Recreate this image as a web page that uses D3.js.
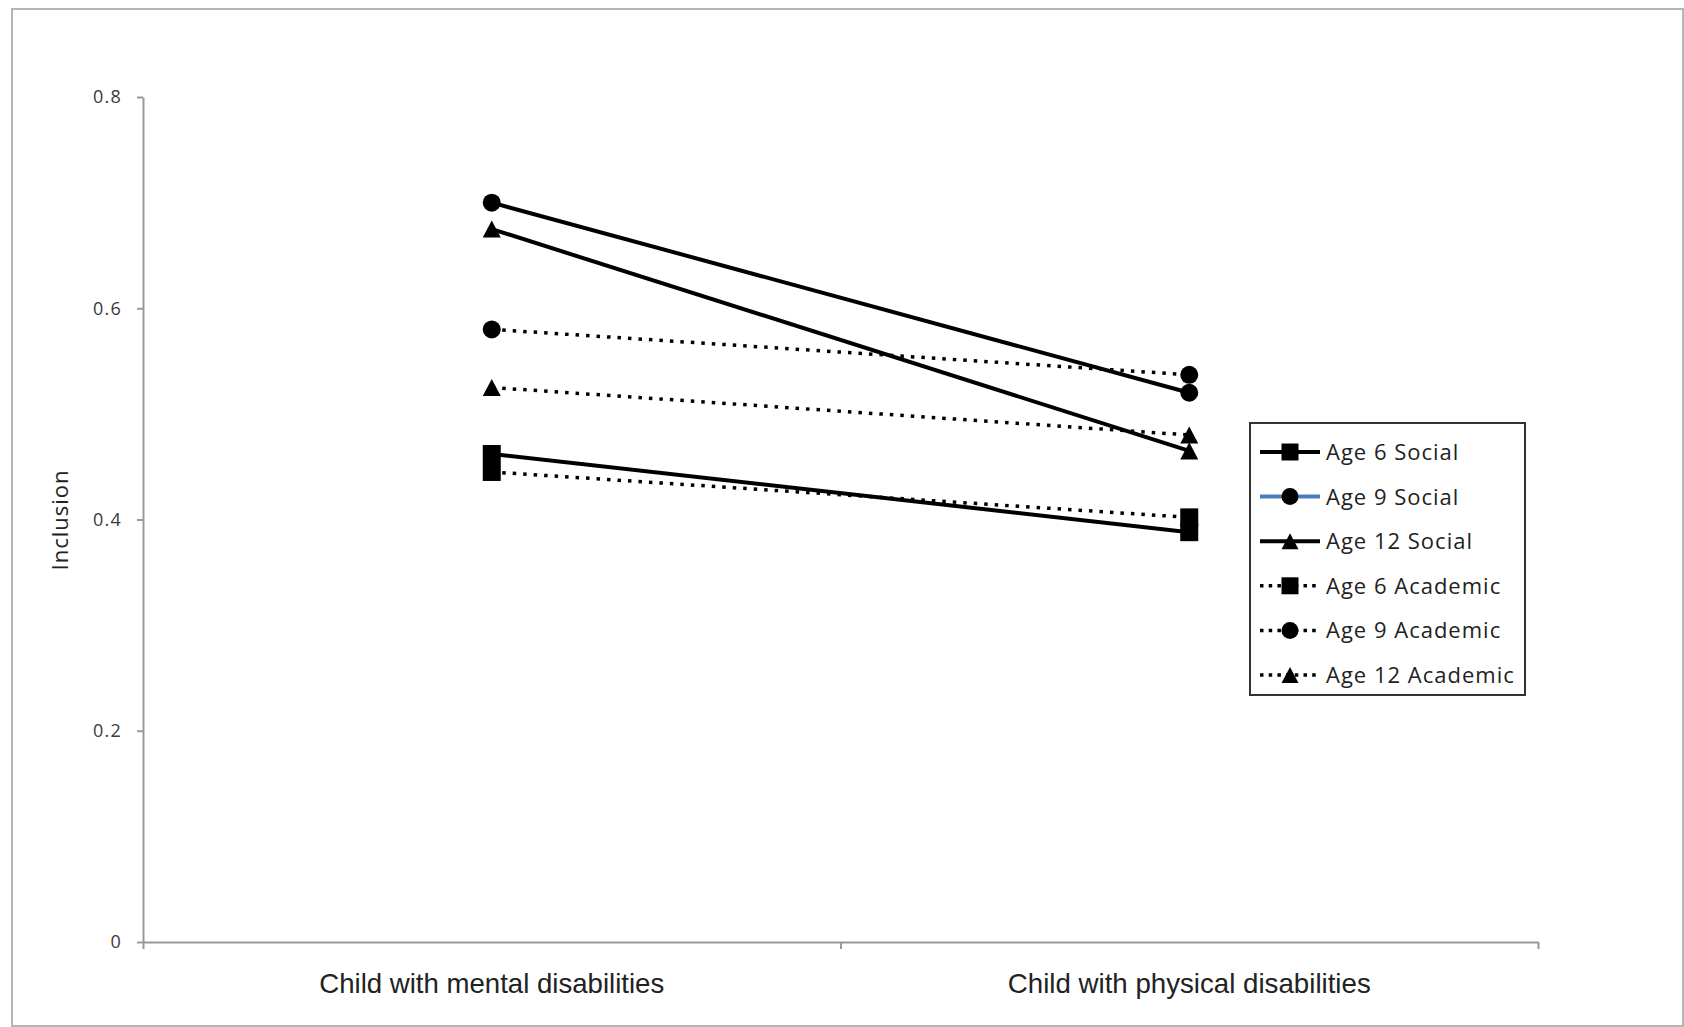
<!DOCTYPE html>
<html>
<head>
<meta charset="utf-8">
<script src="https://cdn.jsdelivr.net/npm/d3@7"></script>
<style>
  html, body { margin: 0; padding: 0; background: #fff; }
  svg { display: block; }
</style>
</head>
<body>
<svg id="chart" width="1684" height="1027"></svg>
<script>
// ---- data ----
const categories = ["Child with mental disabilities", "Child with physical disabilities"];
const seriesNames = ["Age 6 Social", "Age 9 Social", "Age 12 Social", "Age 6 Academic", "Age 9 Academic", "Age 12 Academic"];
const age6Social = [0.462, 0.388];
const age9Social = [0.700, 0.520];
const age12Social = [0.675, 0.465];
const age6Academic = [0.445, 0.402];
const age9Academic = [0.580, 0.537];
const age12Academic = [0.525, 0.480];
const yTicks = [0, 0.2, 0.4, 0.6, 0.8];
const yLabel = "Inclusion";

const seriesValues = [age6Social, age9Social, age12Social, age6Academic, age9Academic, age12Academic];
const seriesMarker = ["square", "circle", "triangle", "square", "circle", "triangle"];
const seriesDotted = [false, false, false, true, true, true];
const legendLineColor = ["#000", "#4a7ebb", "#000", "#000", "#000", "#000"];

// ---- layout ----
const svg = d3.select("#chart");
const plot = { left: 143, right: 1538, top: 97, bottom: 942 };

svg.append("rect")
  .attr("x", 12).attr("y", 9).attr("width", 1671).attr("height", 1017)
  .attr("fill", "#fff").attr("stroke", "#b5b5b5").attr("stroke-width", 2);

const x = d3.scaleBand().domain(categories).range([plot.left, plot.right]).padding(0);
const xEdges = d3.scaleLinear().domain([0, categories.length]).range([plot.left, plot.right]);
const y = d3.scaleLinear().domain([0, 0.8]).range([plot.bottom, plot.top]);
const cx = c => x(c) + x.bandwidth() / 2;

// y axis
const yAxis = svg.append("g")
  .attr("transform", `translate(${plot.left},0)`)
  .call(d3.axisLeft(y).tickValues(yTicks)
    .tickFormat(d => d === 0 ? "0" : d3.format(".1f")(d))
    .tickSize(6).tickPadding(15).tickSizeOuter(0));
yAxis.select(".domain").attr("stroke", "#999").attr("stroke-width", 2);
yAxis.selectAll(".tick line").attr("stroke", "#999").attr("stroke-width", 2);
yAxis.selectAll(".tick text")
  .attr("fill", "#3a3a3a")
  .style("font-family", "'Open Sans', sans-serif")
  .style("font-size", "18px")
  .style("letter-spacing", "1.2px");

// x axis (ticks at category boundaries)
const xAxis = svg.append("g")
  .attr("transform", `translate(0,${plot.bottom})`)
  .call(d3.axisBottom(xEdges).tickValues(d3.range(categories.length + 1))
    .tickFormat("").tickSize(7).tickSizeOuter(0));
xAxis.select(".domain").attr("stroke", "#999").attr("stroke-width", 2);
xAxis.selectAll(".tick line").attr("stroke", "#999").attr("stroke-width", 2);

// category labels
svg.append("g").selectAll("text").data(categories).join("text")
  .attr("x", d => cx(d))
  .attr("y", 993)
  .attr("text-anchor", "middle")
  .attr("fill", "#222")
  .attr("textLength", (d, i) => i === 0 ? 345 : 363)
  .attr("lengthAdjust", "spacingAndGlyphs")
  .style("font-family", "'Liberation Sans', Arial, sans-serif")
  .style("font-size", "28px")
  .text(d => d);

// y label
svg.append("text")
  .attr("transform", `translate(68,520) rotate(-90)`)
  .attr("text-anchor", "middle")
  .attr("fill", "#222")
  .style("font-family", "'Open Sans', sans-serif")
  .style("font-size", "22px")
  .style("letter-spacing", "1px")
  .text(yLabel);

// symbols
function markerPath(type, s) {
  if (type === "square") return d3.symbol(d3.symbolSquare, s * s)();
  if (type === "circle") return d3.symbol(d3.symbolCircle, Math.PI * (s / 2) * (s / 2))();
  const h = s * 0.95;
  return `M0,${-h / 2}L${s / 2},${h / 2}L${-s / 2},${h / 2}Z`;
}

const line = d3.line().x((d, i) => cx(categories[i])).y(d => y(d));

const seriesG = svg.append("g");
seriesValues.forEach((vals, si) => {
  const g = seriesG.append("g");
  g.append("path")
    .datum(vals)
    .attr("d", line)
    .attr("fill", "none")
    .attr("stroke", "#000")
    .attr("stroke-width", seriesDotted[si] ? 3.5 : 4)
    .attr("stroke-dasharray", seriesDotted[si] ? "3.5,7" : null);
  g.selectAll("path.m").data(vals).join("path")
    .attr("class", "m")
    .attr("transform", (d, i) => `translate(${cx(categories[i])},${y(d)})`)
    .attr("d", markerPath(seriesMarker[si], 18))
    .attr("fill", "#000");
});

// legend
const legend = svg.append("g");
legend.append("rect")
  .attr("x", 1250).attr("y", 423).attr("width", 275).attr("height", 272)
  .attr("fill", "#fff").attr("stroke", "#333").attr("stroke-width", 2);

seriesNames.forEach((name, i) => {
  const ry = 452 + i * 44.6;
  const g = legend.append("g");
  g.append("line")
    .attr("x1", 1260).attr("x2", 1320).attr("y1", ry).attr("y2", ry)
    .attr("stroke", legendLineColor[i])
    .attr("stroke-width", seriesDotted[i] ? 3.5 : 4)
    .attr("stroke-dasharray", seriesDotted[i] ? "3.5,5.2" : null);
  g.append("path")
    .attr("transform", `translate(1290,${ry})`)
    .attr("d", markerPath(seriesMarker[i], 17))
    .attr("fill", "#000");
  g.append("text")
    .attr("x", 1326).attr("y", ry + 8)
    .attr("fill", "#222")
    .style("font-family", "'Open Sans', sans-serif")
    .style("font-size", "22px")
    .style("letter-spacing", "1px")
    .text(name);
});
</script>
</body>
</html>
